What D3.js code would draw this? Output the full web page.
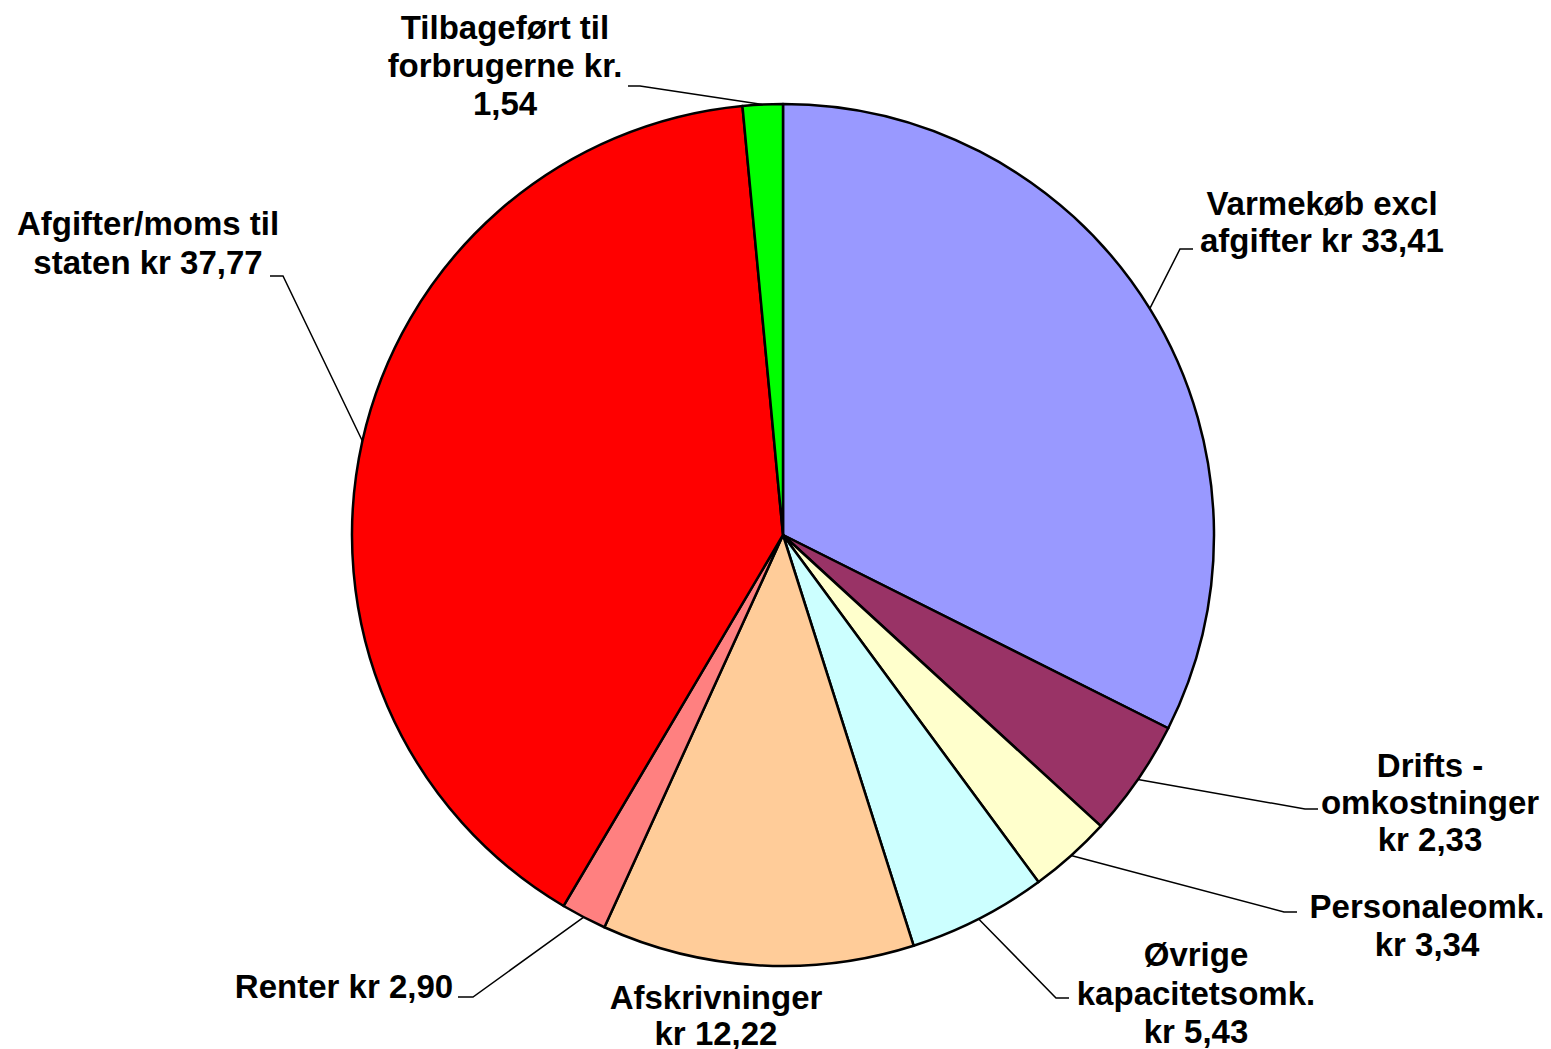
<!DOCTYPE html>
<html>
<head>
<meta charset="utf-8">
<script src="https://cdn.jsdelivr.net/npm/d3@7"></script>
<style>
  html, body { margin: 0; padding: 0; background: #ffffff; }
  svg { display: block; }
  text { font-family: "Liberation Sans", Arial, sans-serif; font-weight: bold; font-size: 33px; fill: #000; }
</style>
</head>
<body>
<svg id="chart" width="1551" height="1049"></svg>
<script>
// ---- data ----
const categories = ["Varmekøb", "Drifts", "Personale", "Øvrige", "Afskrivninger", "Renter", "Afgifter", "Tilbageført"];
// share of the pie as drawn (percent, measured from slice angles)
const shares = [32.4, 4.4, 3.1, 5.2, 11.7, 1.7, 40.0, 1.5];
// label texts as printed on the chart
const labelLines = [
  ["Varmekøb excl", "afgifter kr 33,41"],
  ["Drifts -", "omkostninger", "kr 2,33"],
  ["Personaleomk.", "kr 3,34"],
  ["Øvrige", "kapacitetsomk.", "kr 5,43"],
  ["Afskrivninger", "kr 12,22"],
  ["Renter kr 2,90"],
  ["Afgifter/moms til", "staten kr 37,77"],
  ["Tilbageført til", "forbrugerne kr.", "1,54"]
];
const colors = ["#9999FF", "#993366", "#FFFFCC", "#CCFFFF", "#FFCC99", "#FF8080", "#FF0000", "#00FF00"];

// ---- layout (label placement, as in the original) ----
const labelLayout = [
  { cx: 1322, ys: [215, 252], leader: [[1180, 249], [1193, 249]] },
  { cx: 1430, ys: [777, 814, 851], leader: [[1305, 809], [1318, 809]] },
  { cx: 1427, ys: [918, 956], leader: [[1284, 912], [1297, 912]] },
  { cx: 1196, ys: [966, 1005, 1043], leader: [[1056, 998], [1069, 998]] },
  { cx: 716, ys: [1009, 1045], leader: null },
  { cx: 344, ys: [998], leader: [[473, 997], [458, 997]] },
  { cx: 148, ys: [235, 274], leader: [[283, 276], [270, 276]] },
  { cx: 505, ys: [39, 77, 115], leader: [[640, 86], [628, 86]] }
];

const cx = 783, cy = 535, R = 431;

const svg = d3.select("#chart");
const g = svg.append("g").attr("transform", `translate(${cx},${cy})`);

const pie = d3.pie().sort(null).value(d => d)(shares);
const arc = d3.arc().innerRadius(0).outerRadius(R);

g.selectAll("path.slice")
  .data(pie)
  .join("path")
  .attr("class", "slice")
  .attr("d", arc)
  .attr("fill", (d, i) => colors[i])
  .attr("stroke", "#000")
  .attr("stroke-width", 2.5)
  .attr("stroke-linejoin", "round");

// leader lines
pie.forEach((d, i) => {
  const L = labelLayout[i];
  if (!L.leader) return;
  const mid = (d.startAngle + d.endAngle) / 2;
  const px = cx + R * Math.sin(mid);
  const py = cy - R * Math.cos(mid);
  const pts = [[px, py], L.leader[0], L.leader[1]];
  svg.append("path")
    .attr("d", d3.line()(pts))
    .attr("fill", "none")
    .attr("stroke", "#000")
    .attr("stroke-width", 1.5);
});

// labels
labelLines.forEach((lines, i) => {
  const L = labelLayout[i];
  const t = svg.append("text").attr("text-anchor", "middle");
  lines.forEach((s, j) => {
    t.append("tspan").attr("x", L.cx).attr("y", L.ys[j]).text(s);
  });
});
</script>
</body>
</html>
